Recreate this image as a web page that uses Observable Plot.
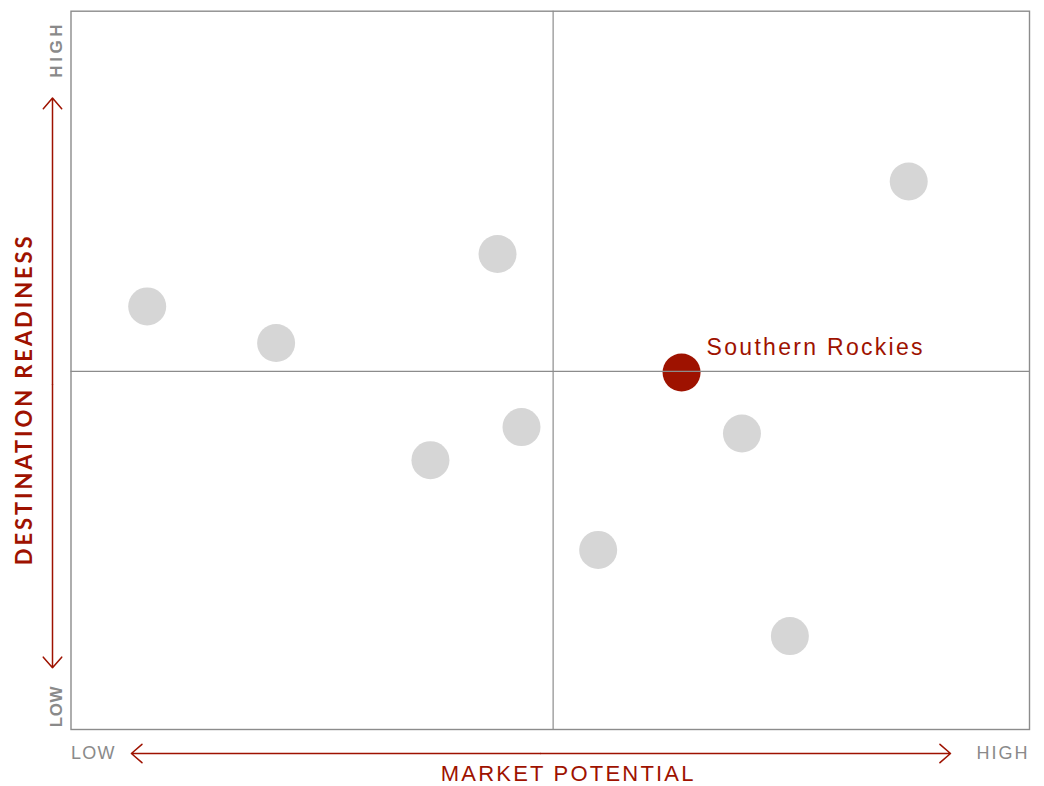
<!DOCTYPE html>
<html><head><meta charset="utf-8">
<script src="https://cdn.jsdelivr.net/npm/d3@7"></script>
<script src="https://cdn.jsdelivr.net/npm/@observablehq/plot@0.6"></script>
<style>
body{margin:0;background:#fff}
</style>
</head><body><div id="chart"></div>
<script>
// Data
const regionNames = ["", "", "", "", "", "", "", "", "", "Southern Rockies"];
const marketPotential = [7.95, 21.4, 44.5, 47.0, 37.5, 70.0, 55.0, 75.0, 87.4, 63.7];
const destinationReadiness = [58.9, 53.8, 66.2, 42.1, 37.5, 41.2, 25.0, 13.0, 76.3, 49.7];
const highlighted = "Southern Rockies";
const quadrantX = [50.3];
const quadrantY = [49.85];
const endLabels = ["LOW", "HIGH"];
const xTitle = "MARKET POTENTIAL";
const yTitle = "DESTINATION READINESS";

const data = regionNames.map((name, i) => ({name, x: marketPotential[i], y: destinationReadiness[i]}));
const others = data.filter(d => d.name !== highlighted);
const focus = data.filter(d => d.name === highlighted);

const red = "#9e1200";
const gray = "#8a8a8a";

// letter-spacing applied after render, keyed by a class per text mark
const spacing = {
  "t-label": "2.3px", "t-xtitle": "2.2px", "t-ytitle": "2.9px",
  "t-xlow": "1.3px", "t-xhigh": "2px", "t-yhigh": "3.6px", "t-ylow": "0.6px"
};

const chart = Plot.plot({
  width: 1044,
  height: 786,
  marginLeft: 70.5,
  marginRight: 15,
  marginTop: 10.7,
  marginBottom: 57,
  x: {domain: [0, 100], axis: null},
  y: {domain: [0, 100], axis: null},
  style: {fontFamily: "Liberation Sans, Arial, sans-serif", background: "#fff"},
  marks: [
    Plot.dot(others, {x: "x", y: "y", r: 19, fill: "#d6d6d6"}),
    Plot.dot(focus, {x: "x", y: "y", r: 19, fill: red}),
    Plot.ruleX(quadrantX, {stroke: "#8c8c8c", strokeWidth: 1.2}),
    Plot.ruleY(quadrantY, {stroke: "#8c8c8c", strokeWidth: 1.2}),
    Plot.frame({stroke: "#8c8c8c", strokeWidth: 1.4}),
    Plot.text(focus, {x: "x", y: "y", text: "name", dx: 25, dy: -25, textAnchor: "start", lineAnchor: "middle", fill: red, fontSize: 23, className: "t-label"}),
    // x-axis end labels
    Plot.text([endLabels[0]], {frameAnchor: "bottom-left", dy: 24, textAnchor: "start", lineAnchor: "middle", fill: gray, fontSize: 18, className: "t-xlow"}),
    Plot.text([endLabels[1]], {frameAnchor: "bottom-right", dx: 0, dy: 24, textAnchor: "end", lineAnchor: "middle", fill: gray, fontSize: 18, className: "t-xhigh"}),
    // y-axis end labels
    Plot.text([endLabels[1]], {frameAnchor: "top-left", dx: -14, dy: 38, rotate: -90, textAnchor: "middle", lineAnchor: "middle", fill: gray, fontSize: 17, fontWeight: 600, className: "t-yhigh"}),
    Plot.text([endLabels[0]], {frameAnchor: "bottom-left", dx: -14, dy: -23, rotate: -90, textAnchor: "middle", lineAnchor: "middle", fill: gray, fontSize: 17, fontWeight: 600, className: "t-ylow"}),
    // titles
    Plot.text([xTitle], {frameAnchor: "bottom", dx: 18, dy: 44, textAnchor: "middle", lineAnchor: "middle", fill: red, fontSize: 22, className: "t-xtitle"}),
    Plot.text([yTitle], {frameAnchor: "left", dx: -46.5, dy: 29, rotate: -90, textAnchor: "middle", lineAnchor: "middle", fill: red, fontSize: 22, fontWeight: 700, fontFamily: "Lato, sans-serif", className: "t-ytitle"}),
    // double-headed axis arrows
    Plot.arrow([0], {x1: 49, x2: 6.3, y1: 0, y2: 0, dy: 24, stroke: red, strokeWidth: 1.5, headLength: 14, headAngle: 82, clip: false}),
    Plot.arrow([0], {x1: 49, x2: 91.76, y1: 0, y2: 0, dy: 24, stroke: red, strokeWidth: 1.5, headLength: 14, headAngle: 82, clip: false}),
    Plot.arrow([0], {x1: 0, x2: 0, y1: 48, y2: 87.9, dx: -18.5, stroke: red, strokeWidth: 1.5, headLength: 14, headAngle: 82, clip: false}),
    Plot.arrow([0], {x1: 0, x2: 0, y1: 48, y2: 8.6, dx: -18.5, stroke: red, strokeWidth: 1.5, headLength: 14, headAngle: 82, clip: false})
  ]
});
for (const [cls, ls] of Object.entries(spacing)) {
  d3.select(chart).selectAll("." + cls + " text, text." + cls).style("letter-spacing", ls);
}
document.getElementById("chart").appendChild(chart);
</script>
</body></html>
